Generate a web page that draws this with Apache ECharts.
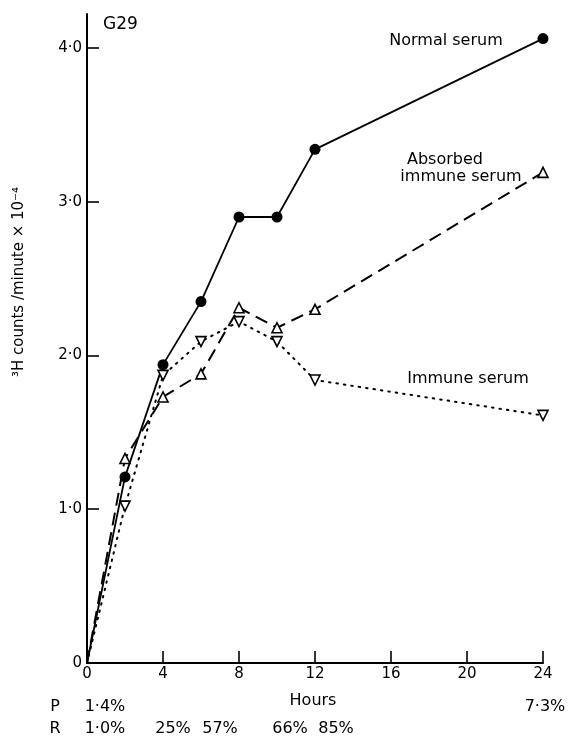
<!DOCTYPE html>
<html>
<head>
<meta charset="utf-8">
<script src="https://cdn.jsdelivr.net/npm/echarts@6/dist/echarts.min.js"></script>
<style>
html,body{margin:0;padding:0;background:#fff;}
#chart{width:571px;height:736px;}
</style>
</head>
<body>
<div id="chart"></div>
<script>
const hours = [0, 2, 4, 6, 8, 10, 12, 24];
const normalSerum = [0, 1.21, 1.94, 2.35, 2.90, 2.90, 3.34, 4.06];
const absorbedSerum = [0, 1.33, 1.73, 1.88, 2.31, 2.18, 2.30, 3.19];
const immuneSerum = [0, 1.02, 1.87, 2.09, 2.22, 2.09, 1.84, 1.61];
const xTicks = [0, 4, 8, 12, 16, 20, 24];
const yTicks = [0, 1, 2, 3, 4];
const yTickLabels = ['0', '1·0', '2·0', '3·0', '4·0'];
const pRow = ['P', '1·4%', '7·3%'];
const rRow = ['R', '1·0%', '25%', '57%', '66%', '85%'];

const FONT = 'DejaVu Sans';
const chart = echarts.init(document.getElementById('chart'), null, {renderer: 'canvas'});

// origin point drawn without a marker, as in the reference
function pairs(ys) {
  return hours.map((h, i) => h === 0 && ys[i] === 0
    ? {value: [h, ys[i]], symbol: 'none'}
    : [h, ys[i]]);
}

const openStyle = {color: '#fff', borderColor: '#000', borderWidth: 1.6};
function txt(x, y, text, size) {
  return {type: 'text', x: x, y: y, style: {text: text, font: size + 'px ' + FONT, fill: '#000', align: 'center', verticalAlign: 'middle'}};
}

const option = {
  backgroundColor: '#fff',
  animation: false,
  grid: {left: 87, right: 28, top: 14, bottom: 73},
  xAxis: {
    type: 'value', min: 0, max: 24, interval: 4,
    axisLine: {show: true, lineStyle: {color: '#000', width: 2}},
    axisTick: {show: true, inside: true, length: 12, lineStyle: {color: '#000', width: 1.6}},
    axisLabel: {color: '#000', fontFamily: FONT, fontSize: 15, margin: 4},
    splitLine: {show: false}
  },
  yAxis: {
    type: 'value', min: 0, max: 4.22,
    axisLine: {show: true, lineStyle: {color: '#000', width: 2}},
    axisTick: {show: true, inside: true, length: 12, customValues: yTicks, lineStyle: {color: '#000', width: 1.6}},
    axisLabel: {
      color: '#000', fontFamily: FONT, fontSize: 15, margin: 5,
      customValues: yTicks,
      formatter: v => { const i = yTicks.indexOf(Math.round(v * 100) / 100); return i >= 0 ? yTickLabels[i] : ''; }
    },
    splitLine: {show: false}
  },
  series: [
    {
      name: 'Normal serum', type: 'line', data: pairs(normalSerum),
      lineStyle: {color: '#000', width: 1.8, type: 'solid'},
      symbol: 'circle', symbolSize: 11, showSymbol: true,
      itemStyle: {color: '#000'}, z: 3
    },
    {
      name: 'Absorbed immune serum', type: 'line', data: pairs(absorbedSerum),
      lineStyle: {color: '#000', width: 2, type: [13, 7]},
      symbol: 'triangle', symbolSize: 10, showSymbol: true,
      itemStyle: openStyle, z: 4
    },
    {
      name: 'Immune serum', type: 'line', data: pairs(immuneSerum),
      lineStyle: {color: '#000', width: 2, type: [1.5, 6], cap: 'round'},
      symbol: 'triangle', symbolRotate: 180, symbolSize: 10, showSymbol: true,
      itemStyle: openStyle, z: 4
    }
  ],
  graphic: [
    {type: 'text', left: 103, top: 16, style: {text: 'G29', font: '17px ' + FONT, fill: '#000'}},
    txt(446, 41, 'Normal serum', 16),
    txt(445, 160, 'Absorbed', 16),
    txt(461, 177, 'immune serum', 16),
    txt(468, 379, 'Immune serum', 16),
    {type: 'text', x: 19, y: 282, rotation: Math.PI / 2,
      style: {text: '³H counts /minute × 10⁻⁴', font: '15px ' + FONT, fill: '#000', align: 'center', verticalAlign: 'middle'}},
    txt(313, 701, 'Hours', 16),
    txt(55, 707, pRow[0], 16),
    txt(105, 707, pRow[1], 16),
    txt(545, 707, pRow[2], 16),
    txt(55, 729, rRow[0], 16),
    txt(105, 729, rRow[1], 16),
    txt(173, 729, rRow[2], 16),
    txt(220, 729, rRow[3], 16),
    txt(290, 729, rRow[4], 16),
    txt(336, 729, rRow[5], 16)
  ]
};
chart.setOption(option);
</script>
</body>
</html>
